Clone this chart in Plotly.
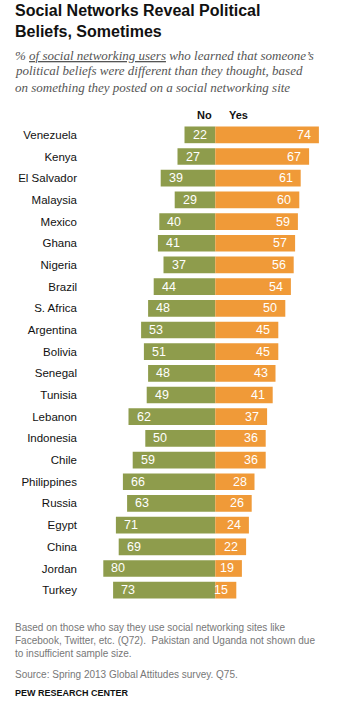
import plotly.graph_objects as go

countries = ["Venezuela", "Kenya", "El Salvador", "Malaysia", "Mexico", "Ghana",
             "Nigeria", "Brazil", "S. Africa", "Argentina", "Bolivia", "Senegal",
             "Tunisia", "Lebanon", "Indonesia", "Chile", "Philippines", "Russia",
             "Egypt", "China", "Jordan", "Turkey"]
no_vals = [22, 27, 39, 29, 40, 41, 37, 44, 48, 53, 51, 48, 49, 62, 50, 59, 66, 63, 71, 69, 80, 73]
yes_vals = [74, 67, 61, 60, 59, 57, 56, 54, 50, 45, 45, 43, 41, 37, 36, 36, 28, 26, 24, 22, 19, 15]

W, H = 346, 705
L, R, T, B = 100, 16, 124, 104
PW, PH = W - L - R, H - T - B
ZERO_PX = 215.3
SCALE = 1.40  # px per percentage point
xmin = -(ZERO_PX - L) / SCALE
xmax = xmin + PW / SCALE

GREEN = "#8e9c4c"
ORANGE = "#f09a38"
FONT = "Liberation Sans, Arial, sans-serif"


def px(x):
    return (x - L) / PW


def py(y):
    return 1 - (y - T) / PH


fig = go.Figure()
fig.add_trace(go.Bar(y=countries, x=[-v for v in no_vals], orientation="h",
                     marker=dict(color=GREEN, line=dict(width=0)), name="No",
                     hoverinfo="skip"))
fig.add_trace(go.Bar(y=countries, x=yes_vals, orientation="h",
                     marker=dict(color=ORANGE, line=dict(width=0)), name="Yes",
                     hoverinfo="skip"))

ann = []
for c, n, y in zip(countries, no_vals, yes_vals):
    ann.append(dict(x=-n, y=c, xref="x", yref="y", text=str(n), showarrow=False,
                    xanchor="left", yanchor="middle", xshift=6,
                    font=dict(family=FONT, size=12.5, color="white")))
    ann.append(dict(x=y, y=c, xref="x", yref="y", text=str(y), showarrow=False,
                    xanchor="right", yanchor="middle", xshift=-6,
                    font=dict(family=FONT, size=12.5, color="white")))


def text(xp, yp, t, size, color="#222", family=FONT, anchor="left"):
    ann.append(dict(x=px(xp), y=py(yp), xref="paper", yref="paper", text=t,
                    showarrow=False, xanchor=anchor, yanchor="middle",
                    font=dict(family=family, size=size, color=color)))


text(13, 11, "<b>Social Networks Reveal Political</b>", 16, "#111")
text(13, 31, "<b>Beliefs, Sometimes</b>", 16, "#111")
SERIF = "Liberation Serif, Times New Roman, serif"
text(13, 55, "<i>% <u>of social networking users</u> who learned that someone\u2019s</i>", 13, "#555", SERIF)
text(13, 71, "<i>political beliefs were different than they thought, based</i>", 13, "#555", SERIF)
text(13, 87, "<i>on something they posted on a social networking site</i>", 13, "#555", SERIF)
text(204, 115, "<b>No</b>", 11, "#111", anchor="center")
text(238, 115, "<b>Yes</b>", 11, "#111", anchor="center")
text(13, 627, "Based on those who say they use social networking sites like", 10, "#777")
text(13, 640, "Facebook, Twitter, etc. (Q72).  Pakistan and Uganda not shown due", 10, "#777")
text(13, 653, "to insufficient sample size.", 10, "#777")
text(13, 674, "Source: Spring 2013 Global Attitudes survey. Q75.", 10, "#777")
text(13, 693, "<b>PEW RESEARCH CENTER</b>", 9, "#111")

fig.update_layout(
    width=W, height=H, margin=dict(l=L, r=R, t=T, b=B, pad=0),
    barmode="relative", bargap=0.23, showlegend=False,
    plot_bgcolor="white", paper_bgcolor="white",
    xaxis=dict(range=[xmin, xmax], visible=False, fixedrange=True),
    yaxis=dict(autorange="reversed", showgrid=False, zeroline=False, showline=False,
               ticks="", ticklabelstandoff=22,
               tickfont=dict(family=FONT, size=11.5, color="#111"), fixedrange=True),
    annotations=ann,
)

fig.write_html("out.html", config={"displayModeBar": False})
